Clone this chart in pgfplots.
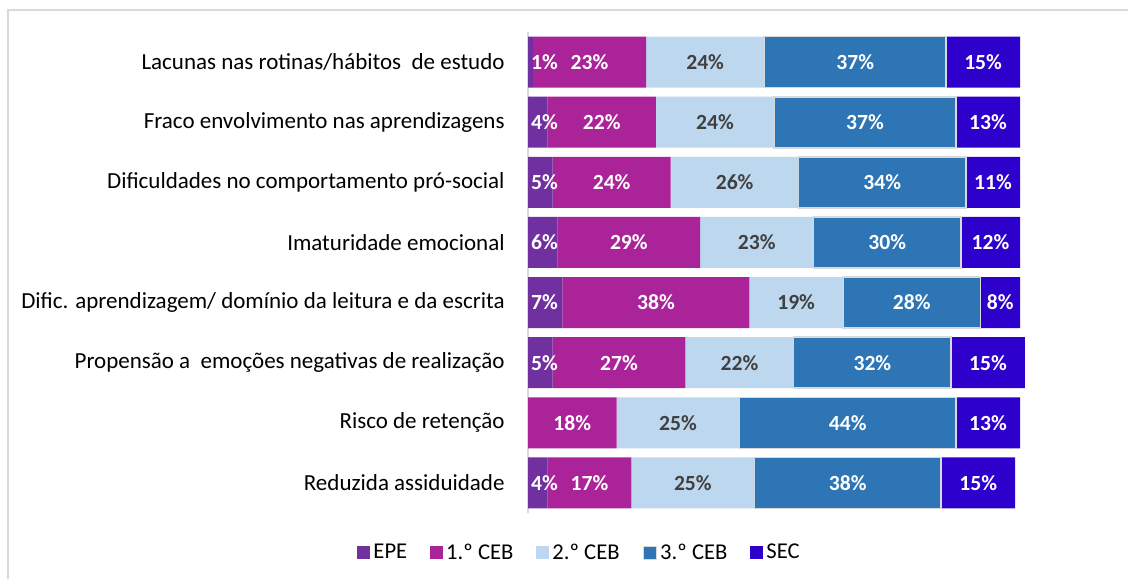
\documentclass[border=0pt]{standalone}
\usepackage{fontspec}
\setmainfont{Carlito}
\usepackage{pgfplots}
\pgfplotsset{compat=1.18}
\definecolor{cEPE}{RGB}{112,48,160}
\definecolor{cCEBa}{RGB}{171,35,152}
\definecolor{cCEBb}{RGB}{189,215,238}
\definecolor{cCEBc}{RGB}{46,117,182}
\definecolor{cSEC}{RGB}{46,0,204}
\definecolor{frameGray}{RGB}{217,217,217}
\definecolor{lblGray}{RGB}{64,64,64}

\begin{document}
\begin{tikzpicture}
  \useasboundingbox (0,0) rectangle (564pt,289.5pt);
  \draw[frameGray, line width=1pt] (4pt,0) -- (4pt,284.5pt) -- (564pt,284.5pt);
  \begin{axis}[
    at={(264pt,33pt)}, anchor=south west,
    scale only axis, width=282.9pt, height=240.5pt,
    xbar stacked, bar width=25.5pt,
    xmin=0, xmax=115,
    ymin=-0.5, ymax=7.5, y dir=reverse,
    axis x line=none, axis y line*=left,
    y axis line style={draw=frameGray, line width=1pt},
    ytick={0,...,7}, ytick style={draw=none},
    yticklabels={
      Lacunas nas rotinas/hábitos\ \ de estudo,
      Fraco envolvimento nas aprendizagens,
      Dificuldades no comportamento pró-social,
      Imaturidade emocional,
      Dific. aprendizagem/ domínio da leitura e da escrita,
      Propensão a\ \ emoções negativas de realização,
      Risco de retenção,
      Reduzida assiduidade},
    yticklabel style={font=\fontsize{11.5}{13}\selectfont, inner sep=0pt, xshift=-11.5pt},
    point meta=rawx,
    visualization depends on=rawx \as \rawx,
    nodes near coords={\ifdim\rawx pt>0pt\pgfmathtruncatemacro\v{\rawx}\v\%\fi},
    every node near coord/.append style={anchor=center,
      font=\fontsize{10.8}{12}\selectfont\bfseries, text=white},
    legend columns=5,
    legend style={at={(0.092,-0.083)}, anchor=center, draw=none, fill=none,
      font=\fontsize{11.3}{13}\selectfont,
      /tikz/every even column/.append style={column sep=10pt},
      nodes={inner sep=1.5pt}},
    legend image code/.code={\path[#1] (0pt,-3.2pt) rectangle (6.5pt,3.3pt);},
    ]
  % EPE labels are too wide for their bars: start them at the bar's left end
  \addplot[fill=cEPE, draw=none,
    every node near coord/.append style={anchor=west,
      shift={(axis direction cs:-\rawx/2,0)}, xshift=-2pt}] coordinates {
    (1,0) (4,1) (5,2) (6,3) (7,4) (5,5) (0,6) (4,7)};
  \addlegendentry{EPE}
  \addplot[fill=cCEBa, draw=none] coordinates {
    (23,0) (22,1) (24,2) (29,3) (38,4) (27,5) (18,6) (17,7)};
  \addlegendentry{1.º CEB}
  \addplot[fill=cCEBb, draw=none,
    every node near coord/.append style={text=lblGray}] coordinates {
    (24,0) (24,1) (26,2) (23,3) (19,4) (22,5) (25,6) (25,7)};
  \addlegendentry{2.º CEB}
  \addplot[fill=cCEBc, draw=frameGray, line width=0.8pt] coordinates {
    (37,0) (37,1) (34,2) (30,3) (28,4) (32,5) (44,6) (38,7)};
  \addlegendentry{3.º CEB}
  \addplot[fill=cSEC, draw=none] coordinates {
    (15,0) (13,1) (11,2) (12,3) (8,4) (15,5) (13,6) (15,7)};
  \addlegendentry{SEC}
  \end{axis}
\end{tikzpicture}
\end{document}
